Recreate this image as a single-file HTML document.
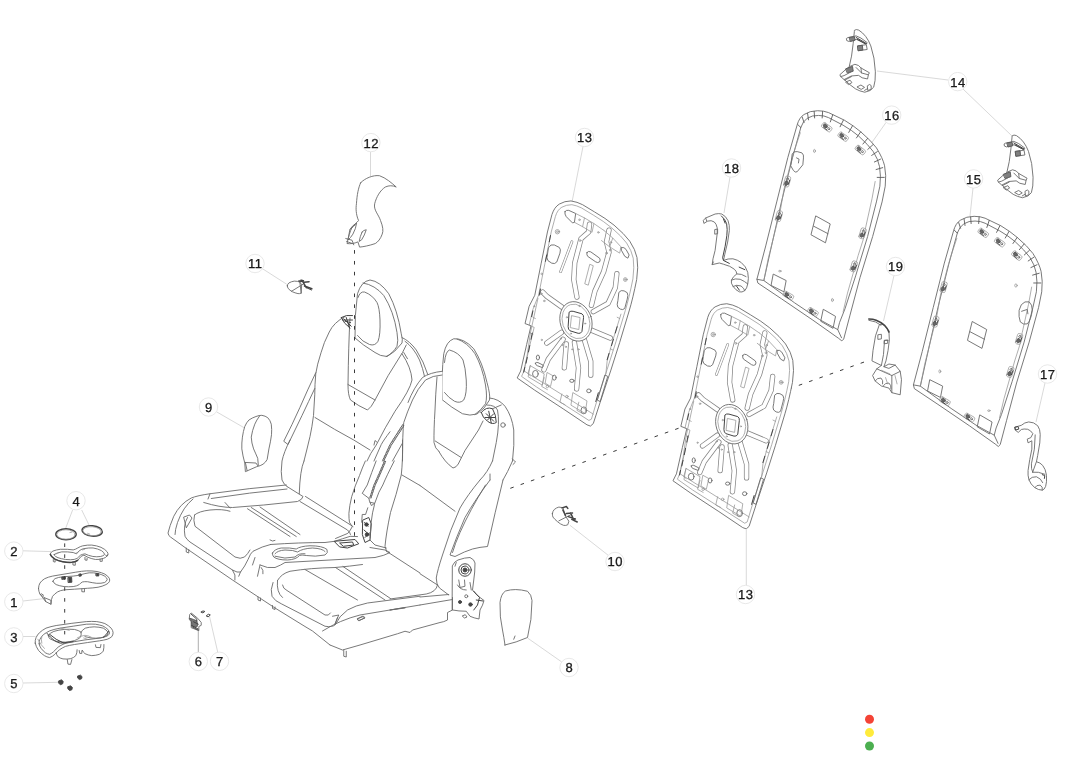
<!DOCTYPE html>
<html><head><meta charset="utf-8"><title>Seat assembly</title>
<style>
html,body{margin:0;padding:0;background:#fff;}
body{width:1080px;height:764px;overflow:hidden;font-family:"Liberation Sans",sans-serif;}
svg{display:block}
.p path,.p polyline,.p line,.p ellipse,.p circle,.p rect,.p polygon{fill:none;stroke:#6a6a6a;stroke-width:.9;vector-effect:non-scaling-stroke;stroke-linejoin:round;stroke-linecap:round}
.p .w{fill:#fff}
.p .d{stroke:#444;stroke-width:1}
.p .l{stroke:#949494;stroke-width:.75}
.p .k{fill:#444;stroke:#444}
.p .g{fill:#ddd}
.p .rib path{stroke:#858585;stroke-width:5.3}
.p .rib2 path{stroke:#8a8a8a;stroke-width:2.8}
.p .rib2w path{stroke:#fff;stroke-width:1.6}
.p .ribw path{stroke:#fff;stroke-width:3.8}
.p .kk{fill:#666;stroke:#555}
.p .h{stroke:#555;stroke-width:2.2;stroke-dasharray:.5 1.1;stroke-linecap:butt}
.ld line,.ld path{stroke:#cfcfcf;stroke-width:.8;fill:none}
.ds line{stroke:#3a3a3a;stroke-width:1;stroke-dasharray:3.6 7.34;fill:none}
.lb circle{fill:#fff;stroke:#e2e2e2;stroke-width:.8}
.lb text{font-family:"Liberation Sans",sans-serif;font-size:13px;fill:#1a1a1a;stroke:#1a1a1a;stroke-width:.3;text-anchor:middle;letter-spacing:.5px;text-rendering:geometricPrecision}
</style></head><body>
<svg width="1080" height="764" viewBox="0 0 1080 764">
<rect width="1080" height="764" fill="#fff"/>
<g class="ld">
<line x1="948" y1="80" x2="877" y2="71"/>
<line x1="963" y1="89" x2="1012" y2="136"/>
<line x1="1045" y1="383" x2="1036" y2="422"/>
<line x1="894" y1="275.5" x2="883.5" y2="321"/>
<line x1="730" y1="177" x2="724" y2="213"/>
<line x1="886" y1="122.5" x2="868" y2="148"/>
<line x1="973" y1="188" x2="970" y2="216"/>
<line x1="583" y1="146.5" x2="572" y2="202"/>
<line x1="370.5" y1="152" x2="370.5" y2="176"/>
<line x1="72.6" y1="510" x2="65.5" y2="528.7"/>
<line x1="81.7" y1="510" x2="89.5" y2="526"/>
<line x1="23" y1="550.8" x2="51" y2="551.6"/>
<line x1="23" y1="601" x2="45" y2="598.5"/>
<line x1="23" y1="636.5" x2="35.5" y2="636.5"/>
<line x1="23" y1="683" x2="58" y2="682.3"/>
<line x1="198.3" y1="630.6" x2="198.3" y2="652.5" style="stroke:#999"/>
<line x1="209.5" y1="616.5" x2="217.8" y2="652.5"/>
<line x1="216.5" y1="411.8" x2="244.4" y2="427.9"/>
<line x1="262.3" y1="268.6" x2="286.8" y2="284.3"/>
<line x1="570" y1="525.3" x2="608.5" y2="555.5"/>
<line x1="527.5" y1="638" x2="561.5" y2="661.8"/>
<line x1="746.3" y1="530" x2="746.3" y2="585"/>
</g>
<g class="ds">
<line x1="510.3" y1="488.3" x2="864.8" y2="361.8"/>
</g>
<g class="p" transform="translate(540 490) scale(0.11779)">
<path class="w" d="M105 200 Q108 178 122 165 Q140 150 160 145 L195 150 L215 220 L245 265 L236 295 Q218 304 200 300 Q172 290 150 270 Q125 250 110 230 Q104 215 105 200 Z"/>
<path d="M160 262 L262 210"/>
<path class="d" style="stroke-width:1.5" d="M188 152 L224 140 L236 156 M194 170 L216 216 M224 200 L276 195 M240 226 L300 246 M270 250 L316 272 M260 195 L290 260"/>
</g>
<g class="p" transform="translate(235 245) scale(0.09259)">
<path class="w" d="M565 440 Q568 420 582 410 Q610 394 640 390 Q675 390 700 400 L720 430 L715 520 Q696 528 680 525 Q648 518 620 505 Q592 490 575 470 Q565 455 565 440 Z"/>
<path d="M610 500 L740 420 M700 400 L715 520"/>
<path class="d" style="stroke-width:1.5" d="M690 388 L735 394 M745 402 L800 396 M750 442 L830 472 M722 380 L770 460"/>
<path class="d" d="M770 460 L826 486 M706 380 L742 384"/>
</g>
<g class="p" transform="translate(280 120) scale(0.20942)">
<path class="w" d="M385 300 C405 278 445 262 475 266 C505 276 535 302 555 320 C538 312 520 312 503 320 C478 336 460 368 452 400 C446 430 470 450 480 480 C492 510 494 530 488 545 C480 568 468 582 455 590 C425 600 400 605 380 607 L372 582 C355 590 335 592 320 590 C326 560 335 530 345 510 C355 498 368 490 375 480 C362 450 362 420 365 400 C368 355 374 325 385 300 Z"/>
<path d="M335 520 Q350 500 366 492 Q362 520 348 545 Q338 562 326 572 Z M338 522 Q350 506 360 500"/>
<path d="M392 535 Q400 525 412 524 Q404 550 390 572 L378 580 Q382 556 392 535 Z"/>
<path d="M314 566 L344 574 L352 596 M318 580 L346 590"/>
</g>
<g class="p" transform="translate(500.2 185.2) scale(0.31447)">
<use href="#p13"/>
</g>
<g class="p" transform="translate(656 288) scale(0.31447)">
<g id="p13">
<path class="w" d="M165 92 Q172 70 188 60 Q205 50 225 50 Q245 53 262 62 L300 85 Q335 105 362 127 Q395 155 412 178 Q430 205 435 230 Q440 260 434 300 Q422 360 410 400 L380 500 L352 588 L318 690 L296 758 L287 766 L276 762 L200 711 L110 652 L54 613 L65 591 L84 507 L98 447 L79 440 L92 385 L110 350 L130 250 L150 150 Z"/>
<path class="l" d="M176 98 Q182 78 196 70 Q210 62 228 62 Q244 65 258 72 L296 95 Q330 115 355 136 Q386 162 402 184 Q418 208 423 232 Q427 260 422 298 Q410 358 398 398 L368 498 L340 586 L308 684 L290 744 L282 748 L204 698 L116 642 L68 608 L76 590 L94 510 L108 452 L92 446 L104 395 L122 350 L142 250 L162 150 Z"/>
<!-- ribs: outlined strokes -->
<g class="rib">
<path d="M197 388 L149 354 L135 340"/>
<path d="M244 356 L234 300 L237 247 L257 170 L281 149 L284 124"/>
<path d="M290 382 L301 337 L329 275 L346 213 L338 180 L346 143"/>
<path d="M296 402 L343 376 L366 326 L371 281"/>
<path d="M283 458 L350 486"/>
<path d="M266 486 L288 560 L288 604"/>
<path d="M236 500 L249 581 L243 648 M210 505 L204 581"/>
<path d="M200 490 L153 553 L139 587"/>
<path d="M195 468 L148 502"/>
</g>
<g class="ribw">
<path d="M197 388 L149 354 L135 340"/>
<path d="M244 356 L234 300 L237 247 L257 170 L281 149 L284 124"/>
<path d="M290 382 L301 337 L329 275 L346 213 L338 180 L346 143"/>
<path d="M296 402 L343 376 L366 326 L371 281"/>
<path d="M283 458 L350 486"/>
<path d="M266 486 L288 560 L288 604"/>
<path d="M236 500 L249 581 L243 648 M210 505 L204 581"/>
<path d="M200 490 L153 553 L139 587"/>
<path d="M195 468 L148 502"/>
</g>
<g class="rib2">
<path d="M192 275 L228 180"/>
</g>
<g class="rib2w">
<path d="M192 275 L228 180"/>
</g>
<ellipse class="w" cx="241" cy="433" rx="50" ry="64" transform="rotate(-18 241 433)"/><ellipse class="l" cx="241" cy="433" rx="43" ry="56" transform="rotate(-18 241 433)"/>
<path class="d" d="M220 403 Q224 399 232 401 L260 409 Q266 413 265 421 L260 465 Q256 473 248 471 L222 463 Q216 459 216 451 Z"/>
<path class="l" d="M228 415 L254 421 L250 459 L224 453 Z"/>
<circle class="l" cx="212" cy="420" r="2"/><circle class="l" cx="270" cy="440" r="2"/><circle class="l" cx="225" cy="472" r="2"/><circle class="l" cx="252" cy="384" r="2"/>
<circle class="l" cx="193" cy="488" r="2"/><circle class="l" cx="198" cy="508" r="2"/><circle class="l" cx="209" cy="514" r="2"/><circle class="l" cx="229" cy="522" r="2"/><circle class="l" cx="249" cy="522" r="2"/>
<!-- slots -->
<path d="M276 214 Q280 208 288 212 L316 232 Q320 238 316 244 Q310 248 304 244 L278 226 Q274 220 276 214 Z"/>
<path class="l" d="M286 252 L296 256 L280 318 L270 314 Z"/>
<path d="M154 198 Q160 186 172 190 L188 198 Q194 204 190 216 L180 244 Q174 252 164 248 L152 240 Q146 232 150 220 Z"/>
<path d="M378 340 Q384 332 394 336 L404 342 Q408 350 404 362 L396 392 Q390 398 382 394 L374 388 Q370 380 374 368 Z"/>
<!-- top tabs -->
<path d="M206 84 Q210 78 218 80 L240 90 L236 118 L230 120 L210 100 Q204 92 206 84 Z"/>
<path class="l" d="M240 90 L268 104 L262 132 L236 118 M268 104 L298 122 L292 150 L262 132 M298 122 L330 144 M330 144 L358 168 L348 196 L322 176 M358 168 L384 196 L380 216 L348 196"/>
<circle class="l" cx="252" cy="110" r="2.5"/><circle class="l" cx="312" cy="150" r="2.5"/><circle class="l" cx="352" cy="182" r="2.5"/>
<path d="M386 198 Q394 196 400 204 L410 222 L406 232 L396 226 L386 208 Z"/>
<circle class="l" cx="182" cy="148" r="7"/><circle class="l" cx="182" cy="148" r="3"/>
<circle class="l" cx="398" cy="300" r="6"/><circle class="l" cx="398" cy="300" r="2.5"/>
<circle class="l" cx="254" cy="176" r="3"/><circle class="l" cx="338" cy="216" r="3"/><circle class="l" cx="350" cy="206" r="3"/>
<!-- left side details -->
<circle class="l" cx="132" cy="282" r="2.5"/><circle class="l" cx="130" cy="345" r="3"/><circle class="l" cx="140" cy="368" r="2.5"/><circle class="l" cx="108" cy="385" r="2"/><circle class="l" cx="132" cy="492" r="2"/>
<path class="l" d="M120 360 L96 470 L86 540 L74 596 M104 420 L112 424 M96 470 L104 474"/>
<path class="l" d="M384 410 L356 500 L340 560 L336 600 M372 420 L380 424 M350 520 L358 524"/>
<!-- lower holes -->
<ellipse cx="120" cy="548" rx="5" ry="8"/><ellipse cx="112" cy="600" rx="9" ry="11"/>
<path d="M112 566 Q114 562 120 564 L136 572 Q138 576 134 580 L118 574 Q112 572 112 566 Z"/>
<ellipse cx="172" cy="612" rx="6" ry="8"/><ellipse cx="228" cy="622" rx="7" ry="5"/><ellipse cx="282" cy="654" rx="7" ry="6"/>
<ellipse cx="266" cy="716" rx="9" ry="11"/><circle class="l" cx="212" cy="672" r="4"/><circle class="l" cx="150" cy="640" r="4"/>
<path class="l" d="M96 574 L88 600 L96 606 M140 612 L132 640 L150 650 M196 664 L190 690 L206 698 M250 690 L244 716 L262 726"/>
<path class="l" d="M78 592 L296 728"/>
<path d="M334 604 L342 608 L318 688 L310 684 Z"/>
<path class="d" d="M128 330 L124 350 M104 400 L100 418 M102 470 L98 490 M94 510 L90 530 M86 548 L82 566 M78 580 L75 594 M372 450 L366 470 M360 490 L354 510 M346 535 L340 555 M312 660 L304 688 M160 160 L156 180 M148 222 L144 242"/>
<path class="l" d="M96 574 L140 600 L134 636 L90 610 Z M232 660 L276 686 L270 726 L226 700 Z M150 596 L168 606 L160 640 L144 630 Z"/>
</g>
</g>
<g class="p" transform="translate(820 20) scale(0.12037)">
<g id="p14">
<path class="w" d="M288 84 Q300 74 322 84 Q388 125 422 215 Q455 310 460 430 Q462 510 446 558 Q425 592 372 600 Q330 592 295 572 Q240 535 200 492 L215 470 Q245 400 262 300 Q278 190 285 100 Z"/>
<path class="w" d="M222 152 L232 146 L300 132 L340 150 L392 188 L385 200 L300 160 L240 178 L225 172 Z"/>
<path class="k" style="fill:#808080;stroke:#555" d="M245 145 L285 138 L292 168 L255 178 Z"/>
<path class="d" d="M300 145 L385 195 M310 160 L380 200"/>
<path class="w" d="M315 215 L385 205 L392 245 L320 255 Z"/>
<path class="k" style="fill:#808080;stroke:#555" d="M315 215 L352 210 L356 250 L320 255 Z"/>
<path class="w" d="M168 452 L215 410 L250 385 L290 368 L320 378 L340 398 L410 438 L402 455 L395 490 L350 480 L320 460 L260 465 L200 495 L172 470 Z"/>
<path class="k" style="fill:#808080;stroke:#555" d="M215 405 L270 385 L276 425 L230 440 Z"/>
<path d="M172 470 L200 462 L260 430 M300 395 L345 440 L400 455 M340 398 L345 440"/>
<path d="M215 515 L250 500 L265 520 L240 535 Z M205 500 L262 470"/>
<path d="M310 555 L340 540 L370 560 L345 575 Z"/>
<path d="M395 545 Q415 525 425 545 L425 575 L400 585 Z M370 585 L395 570"/>
</g>
</g>
<g class="p" transform="translate(977.7 125.5) scale(0.12037)">
<use href="#p14"/>
</g>
<g class="p" transform="translate(906.5 200.6) scale(0.31447)">
<use href="#p16"/>
<path d="M366 330 Q376 318 390 322 Q400 330 400 348 Q396 380 384 392 Q372 396 362 386 Q356 370 358 350 Z M366 352 L384 346 L386 360"/>
<ellipse class="l" cx="348" cy="270" rx="4" ry="5"/><ellipse class="l" cx="106" cy="543" rx="3" ry="5"/><ellipse class="l" cx="262" cy="668" rx="4" ry="2.5"/>
</g>
<g class="p" transform="translate(750 95) scale(0.31447)">
<g id="p16">
<path class="w" d="M150 95 Q156 72 172 62 Q190 50 215 50 Q235 50 250 56 L300 80 Q330 98 352 117 Q385 145 402 168 Q422 200 428 225 Q434 255 430 290 L420 340 L390 450 L350 580 L318 700 L298 776 L292 782 L282 774 L200 716 L100 648 L25 598 L22 586 L50 480 L85 340 L120 200 Z"/>
<path d="M162 102 Q168 84 182 74 Q198 64 218 65 Q236 65 250 72 L296 96 Q324 112 346 131 Q376 158 392 180 Q408 205 412 228 Q417 258 413 290 L402 340 L374 450 L336 575 L302 680 L285 723 L279 746 L291 772"/>
<path d="M279 746 L221 714 L142 661 L44 590 L22 586 M44 590 L64 500 L100 340 L135 200 L162 102"/>
<path class="l" d="M160 120 Q150 150 140 180 L130 215 L118 262 L108 300 L96 370 L78 440 L58 520 L44 590"/>
<path class="l" d="M398 275 L388 330 L368 420 L360 460 L344 510 L330 560 L310 630 L296 690"/>
<!-- teeth -->
<path style="stroke:#5a5a5a" d="M161.0 103.0 L152.0 94.0 M172.0 88.0 L166.0 70.0 M186.0 79.0 L183.0 58.0 M205.5 73.0 L204.0 52.0 M229.5 73.0 L231.0 52.0 M255.5 85.5 L263.0 63.0 M286.5 101.0 L297.0 80.0 M314.0 119.0 L326.0 98.0 M338.5 136.5 L352.0 117.0 M359.0 156.0 L374.0 138.0 M374.5 173.0 L391.0 158.0 M387.0 192.0 L405.0 180.0 M395.5 213.0 L415.0 204.0 M401.0 237.0 L422.0 231.0 M404.5 262.0 L427.0 262.0"/>
<!-- clips -->
<g transform="translate(244 102.5) rotate(35)"><g id="clip16"><rect class="l" x="-17" y="-8.5" width="34" height="17" rx="5"/><ellipse class="kk" cx="-6" cy="-1" rx="7" ry="5"/><circle cx="8" cy="0" r="3.2"/><path class="d" d="M-8 6 L6 7"/></g></g>
<use href="#clip16" transform="translate(296.3 132.6) rotate(35)"/>
<use href="#clip16" transform="translate(350.8 175) rotate(38)"/>
<use href="#clip16" transform="translate(118 275) rotate(-75)"/>
<use href="#clip16" transform="translate(92 385) rotate(-75)"/>
<use href="#clip16" transform="translate(358 440) rotate(-73)"/>
<use href="#clip16" transform="translate(330 545) rotate(-73)"/>
<use href="#clip16" transform="translate(122 638) rotate(30)"/>
<use href="#clip16" transform="translate(200 690) rotate(30)"/>
<!-- centre square -->
<path d="M210 385 L255 410 L240 470 L195 445 Z M202 417 L248 441"/>
<!-- bottom rectangles -->
<path d="M75 570 L115 590 L108 626 L68 606 Z M234 682 L272 704 L264 742 L226 720 Z"/>
</g>
<path d="M135 186 Q140 178 150 180 L165 184 Q172 190 170 200 L168 222 L150 244 Q144 248 138 240 L130 226 Z M148 200 L156 204 L154 216"/>
<ellipse class="l" cx="205" cy="178" rx="3" ry="5"/><ellipse class="l" cx="262" cy="652" rx="3" ry="5"/><ellipse class="l" cx="95" cy="560" rx="4" ry="2.5"/>
</g>
<g class="p" transform="translate(990 355) scale(0.20921)">
<path class="w" d="M120 345 L150 336 Q165 322 185 320 Q210 320 228 338 Q240 355 240 380 L238 420 L228 480 L222 510 Q240 514 252 528 Q266 545 270 575 Q272 610 266 628 Q260 644 250 646 Q232 646 214 634 Q194 618 186 596 Q180 575 182 552 L190 500 L200 450 L200 410 L182 420 L178 402 L195 395 L205 376 Q195 360 180 355 Q162 352 150 356 L135 370 L122 360 Z"/>
<path class="d" d="M120 345 L134 342 L138 354 L124 358 Z M250 572 L262 576 L260 590"/>
<path d="M216 382 L212 450 L198 520 Q196 545 204 560 M222 510 L204 560"/>
<path d="M186 596 Q200 580 222 582 Q244 590 252 610 M214 634 Q222 620 240 622 Q254 630 250 646 M204 560 Q230 556 262 570"/>
</g>
<g class="p" transform="translate(690 150) scale(0.20921)">
<path class="w" d="M65 335 L75 325 L120 306 Q138 302 152 306 Q172 316 182 338 Q190 360 188 385 L180 440 L166 500 L160 528 Q182 518 205 520 Q228 525 245 538 Q268 556 276 585 Q282 615 276 640 Q272 662 262 672 Q248 682 236 678 Q218 670 206 652 Q194 636 198 622 Q206 604 224 592 Q222 578 212 570 L190 556 L160 546 L140 540 L106 548 L110 520 L120 480 L130 400 L130 372 Q126 352 116 344 Q102 334 84 340 L68 350 Z"/>
<path class="d" d="M150 315 Q168 330 175 352 Q180 380 176 410 L168 460 L156 515 L160 528 L188 542 M160 330 L168 350"/>
<path d="M120 380 L132 378 L132 400 L120 402 Z M106 548 L112 535 M75 325 L80 340"/>
<path d="M198 622 Q215 612 240 618 Q262 628 276 640 M206 652 Q222 642 244 650 Q258 660 262 672 M224 592 Q245 590 268 605"/>
<path class="d" d="M235 560 L262 572 M222 650 L236 670"/>
</g>
<g class="p" transform="translate(850 250) scale(0.20921)">
<path class="w" d="M140 358 L122 410 L110 480 L105 530 L150 552 L128 568 L108 600 L120 626 L150 650 L186 660 L200 682 L240 692 L246 620 L240 580 L216 550 L186 545 L162 558 L172 530 L182 480 L188 430 L186 386 L160 356 Z"/>
<path class="d" style="stroke-width:1.6" d="M90 330 Q110 330 125 336 Q150 346 165 360 Q182 378 186 392"/>
<path d="M90 336 L122 344 L148 360"/>
<path d="M150 552 L160 500 L165 432 L182 432 M135 405 L150 403 L150 425 L135 427 Z M165 432 L180 430 L180 446 L165 448 Z"/>
<path d="M128 568 L200 600 L240 580 M200 600 L200 682 M162 558 L186 566 L216 550"/>
<path d="M120 626 Q130 610 148 612 Q160 622 156 640 M160 648 Q168 634 186 636 Q198 646 196 664"/>
<path class="l" d="M150 575 L190 592 M170 610 L180 640 M215 600 L225 640"/>
</g>
<g class="p" transform="translate(170 590) scale(0.11779)">
<path class="w" d="M170 205 L180 195 L235 240 L265 275 L265 300 L245 310 L245 345 L180 320 L180 270 L165 250 Z"/>
<path class="k" style="fill:#777;stroke:#555" d="M168 240 L200 250 L228 262 L234 296 L230 312 L210 314 L186 304 L182 270 Z"/>
<path class="d" d="M180 205 L228 248 L228 262 M182 300 L240 332 M186 312 L238 340 M200 270 L240 290"/>
<path class="d" d="M265 186 L280 178 L296 182 L282 192 Z M310 218 L326 206 L342 212 L326 226 Z"/>
</g>
<g class="p" transform="translate(190 390) scale(0.11779)">
<path class="w" d="M470 690 L465 620 Q448 560 440 500 Q438 450 445 400 Q452 350 465 310 Q480 275 500 255 Q528 236 560 225 Q588 214 610 215 Q640 220 660 235 Q682 258 690 290 Q696 335 692 380 Q684 440 670 500 L655 590 Q642 615 620 630 Q598 644 570 650 Z"/>
<path d="M590 222 Q565 255 550 290 Q528 345 520 400 Q522 450 540 500 Q560 545 575 580 L580 640"/>
<path d="M470 615 L560 620 L575 642 M470 615 L485 685"/>
</g>
<g class="p" transform="translate(30 510) scale(0.13089)">
<ellipse class="d" style="stroke-width:1.4" cx="275" cy="185" rx="78" ry="42"/>
<ellipse class="l" cx="275" cy="187" rx="70" ry="36"/>
<ellipse class="d" style="stroke-width:1.4" cx="475" cy="160" rx="78" ry="40" transform="rotate(5 475 160)"/>
<ellipse class="l" cx="475" cy="162" rx="70" ry="34" transform="rotate(5 475 160)"/>
<path class="l" d="M305 172 L322 168 M440 178 L456 184"/>
<!-- part 2 -->
<path class="w" d="M155 335 Q160 320 175 314 Q200 304 232 300 Q290 298 330 305 Q350 300 365 290 Q385 278 402 274 Q440 266 472 268 Q510 272 542 285 Q575 300 590 320 Q600 335 594 346 Q580 365 560 370 Q530 380 500 378 Q465 372 440 360 L412 345 Q395 350 385 360 Q375 375 364 385 Q345 398 320 400 Q285 402 250 395 Q215 388 190 375 Q165 362 158 350 Z"/>
<path d="M185 340 Q205 326 242 320 Q290 318 330 325 L356 335 Q366 318 382 308 Q396 298 412 295 Q450 288 482 290 Q518 296 545 310 Q568 325 570 340 Q558 352 540 355 Q510 360 480 355 Q445 348 420 335 Q400 338 386 345 Q372 358 360 370 Q340 380 310 380 Q270 380 240 372 Q210 365 195 355 Q185 348 185 340 Z"/>
<path class="d" style="stroke-width:1.5" d="M156 340 Q162 358 190 375 Q215 388 250 395 Q285 402 320 400 Q345 398 364 385"/>
<path d="M178 378 L178 394 L192 398 L192 384 M328 402 L328 420 L346 422 L346 400 M420 362 L420 382 L436 384 L436 368 M535 374 L535 392 L552 392 L552 372 M578 346 L590 352 L594 342"/>
<path class="l" d="M200 335 L215 330 M400 305 L418 300 M350 330 L368 322"/>
<!-- part 1 -->
<path class="w" d="M65 600 Q66 575 76 558 Q90 538 112 525 Q138 512 172 505 L260 490 L350 475 Q395 467 432 465 Q475 464 512 470 Q548 478 572 490 Q598 506 606 522 Q612 536 606 548 Q598 562 580 570 Q552 584 520 590 Q480 596 440 598 L340 605 L262 610 Q232 614 212 625 Q188 640 172 660 Q162 680 160 720 L120 700 L76 642 Q66 622 65 600 Z"/>
<path d="M175 545 Q178 532 192 524 Q215 514 252 510 L330 505 Q360 502 386 495 Q420 484 452 480 Q488 478 520 485 Q552 494 572 506 Q588 518 590 530 Q586 546 570 554 Q545 562 510 560 Q475 556 440 548 Q415 546 400 550 Q386 558 376 570 Q356 582 330 585 Q295 588 260 585 Q225 580 200 570 Q180 558 175 545 Z"/>
<path d="M110 670 L160 690 L160 720 M76 642 L110 670 L120 700 M88 640 L104 652"/>
<path class="k" d="M245 512 L270 510 L270 528 L246 530 Z M292 516 L318 514 L320 552 L294 554 Z M376 490 L390 488 L392 504 L378 506 Z M505 486 L524 486 L526 504 L507 504 Z"/>
<path d="M396 604 L396 624 L416 626 L416 604"/>
</g>
<g class="p" transform="translate(30 600) scale(0.13089)">
<path class="w" d="M40 330 Q38 305 46 288 Q56 266 72 250 Q94 230 122 215 Q160 202 200 195 L320 178 L430 165 Q472 162 510 165 Q545 170 572 180 Q602 196 620 215 Q634 232 635 250 Q634 268 625 280 Q612 292 590 300 Q560 308 530 312 L440 325 L340 340 Q300 346 270 355 Q245 366 225 380 L190 415 Q172 432 150 440 Q128 436 110 425 Q84 408 65 385 Q46 358 40 330 Z"/>
<path d="M70 335 Q68 316 76 300 Q86 280 102 265 Q124 248 152 235 Q190 222 230 215 L330 200 L430 185 Q468 183 500 185 Q530 190 556 198 Q580 210 595 225 Q606 238 608 252 Q604 264 595 272 Q580 280 560 285 L500 295 L420 305 L330 320 Q292 326 260 335 Q235 346 215 360 L180 395 Q166 408 150 415 Q134 412 120 405 Q100 390 85 370 Q72 352 70 335 Z"/>
<path d="M140 270 Q155 250 182 240 Q220 228 262 225 Q304 222 340 225 Q372 232 390 245 Q394 268 385 285 Q366 302 340 310 Q305 320 270 322 Q232 322 200 315 Q168 306 150 295 Q140 284 140 270 Z"/>
<path d="M388 250 Q398 228 422 215 Q455 206 490 205 Q528 206 560 215 Q584 228 595 245 Q598 260 590 270 Q568 284 540 290 Q505 294 470 290 Q440 286 420 280"/>
<path class="d" d="M130 255 Q155 285 186 310 Q210 325 232 330 L330 318 M150 262 L200 300 L260 330 M560 285 Q580 270 600 240"/>
<path class="l" d="M60 300 Q80 340 110 370 M90 280 Q84 300 90 330 M235 215 L300 232 M410 290 L440 300"/>
<path d="M200 400 Q202 420 212 432 Q230 446 252 450 Q284 454 312 448 Q336 440 350 425 Q360 405 360 380 M400 385 Q406 400 420 410 Q444 422 472 425 Q504 424 530 415 Q550 405 560 390 Q566 365 565 340"/>
<path d="M285 455 L290 490 L310 492 L320 455 M376 386 L380 408 L396 408 L396 388 M500 342 L504 362 L538 364 L542 340"/>
<path class="l" d="M360 290 Q380 275 420 270 Q450 272 470 285"/>
<!-- screws -->
<path class="k" d="M220 618 L240 610 L254 622 L250 640 L232 648 L220 636 Z M366 580 L386 574 L398 586 L394 602 L378 608 L366 598 Z M290 662 L310 656 L324 668 L320 686 L302 692 L290 680 Z"/>
</g>
<g class="p" transform="translate(270 270) scale(0.25000)">
<!-- headrest 1 -->
<path class="w" d="M340 272 Q338 180 350 95 Q365 45 400 40 Q440 45 475 95 Q510 160 525 255 Q532 280 528 292 Q500 330 468 346 Q440 345 420 330 Q370 300 340 272 Z"/>
<path d="M372 52 Q420 60 455 102 Q495 165 508 250 Q514 285 508 305 Q490 335 465 346"/>
<path d="M352 110 Q360 85 378 88 Q410 100 428 130 Q438 150 440 200 Q442 260 432 285 Q420 305 398 298 Q370 288 350 262"/>
<!-- seat back 1 -->
<path d="M300 186 Q255 210 237 248 Q215 290 204 331 Q188 380 183 415 Q179 460 179 499 L174 582 Q168 630 160 666 L147 720 L136 764"/>
<path d="M183 411 Q150 480 120 549 Q88 620 55 685 L72 698 Q100 640 128 582 Q155 525 179 474"/>
<path d="M528 270 Q560 285 585 320 Q615 365 632 420"/>
<path d="M540 285 Q575 310 598 360 Q612 395 618 425"/>
<path d="M320 192 Q314 300 312 460 Q312 500 322 520 Q355 545 390 560 Q405 550 420 520 Q470 420 530 330 L545 300"/>
<path d="M528 335 Q565 390 568 440 Q560 480 500 565 Q460 630 425 700 Q400 735 388 764"/>
<path d="M427 688 L420 682 L416 700"/>
<path d="M180 590 Q260 640 335 680 L400 720"/>
<path d="M312 458 L420 520"/>
<path d="M535 330 L550 355"/>
<!-- belt guide 1 -->
<path class="d" d="M285 190 Q305 178 330 182 M285 190 Q295 215 320 232 M295 195 L325 225 M300 205 L322 210 M305 190 L318 232 M290 200 L330 200"/>
<!-- headrest 2 -->
<path class="w" d="M690 520 Q685 420 695 335 Q705 285 735 275 Q775 272 815 315 Q850 370 868 450 Q882 500 878 520 Q860 555 828 576 Q800 585 770 575 Q725 550 690 520 Z"/>
<path d="M748 276 Q790 290 820 335 Q850 390 862 460 Q870 510 862 535 Q845 560 820 578"/>
<path d="M698 370 Q702 325 718 320 Q755 330 772 360 Q782 390 785 440 Q788 495 775 520 Q760 535 738 525 Q715 512 698 490"/>
<!-- seat back 2 -->
<path class="w" d="M690 405 Q640 410 610 430 Q575 470 552 530 Q535 600 530 764 L700 764 L690 520 Z" style="stroke:none"/>
<path d="M690 405 Q640 410 610 430 Q575 470 552 530"/>
<path d="M688 420 Q650 422 622 440 Q590 475 570 520 Q548 570 535 610 Q530 650 530 764"/>
<path d="M668 428 Q662 500 660 560 Q655 640 656 690 Q660 715 675 725"/>
<path d="M878 512 Q915 515 940 545 Q968 585 975 640 Q978 700 970 764"/>
<path d="M868 540 Q900 540 910 560 Q920 610 905 690 L890 764"/>
<path d="M480 647 Q455 680 445 698 L416 764 M529 694 L490 764"/>
<path d="M531 618 L480 698 L450 764 M535 624 L485 701 L455 764"/><path class="h" d="M533 621 L482 700 L452 764"/>
<!-- belt guide 2 -->
<path class="d" d="M845 570 Q865 545 890 555 Q905 580 905 610 Q890 620 870 605 Q850 590 845 570 Z M865 575 L895 605 M875 565 L885 612 M860 590 L900 590 M870 600 L895 575"/>
<circle cx="932" cy="620" r="9"/>
<path d="M890 555 L925 540"/>
<path d="M675 725 Q700 770 732 792 Q745 790 753 776 L780 722 L834 640 L852 604"/>
<path d="M661 684 L763 749"/>
</g>
<g class="p" transform="translate(150 440) scale(0.25000)">
<!-- seat back 1 lower-left -->
<path d="M616 84 Q600 120 597 215 M560 0 Q535 50 528 84 Q522 130 528 160 Q535 178 548 186"/>
<!-- cushion outer -->
<path d="M545 180 Q400 192 240 215 Q190 222 165 232 Q120 255 95 305 Q78 345 72 372 Q74 384 82 388 L140 430 L330 560 L500 672 L620 746 L650 764 L720 820"/>
<path d="M548 196 Q400 210 245 234 M240 215 L232 236"/>
<path d="M172 236 Q132 268 110 330 Q100 360 100 378"/>
<path d="M215 250 Q280 270 330 270 Q450 262 590 246 Q610 238 612 226 L548 186"/>
<path d="M150 310 Q132 340 140 385 Q146 398 160 408 L330 520 Q350 532 362 528 Q380 505 392 478 Q402 452 412 445 Q450 425 482 418"/>
<path d="M178 300 Q172 320 180 345 L340 468 Q362 478 378 468 Q392 455 400 440"/>
<path d="M178 300 Q195 285 240 280 Q290 275 320 285 M300 250 L320 272"/>
<path d="M136 308 L158 300 L168 312 L146 350 Z"/>
<path d="M390 275 L560 386 M405 270 L585 386 M440 268 L600 378"/>
<path d="M600 246 L790 360 Q800 368 802 378 M622 226 L812 346"/>
<!-- console -->
<path d="M482 418 Q600 410 700 410 Q740 408 770 395 Q800 380 830 386"/>
<path d="M490 452 Q498 436 525 432 Q560 430 585 436 Q600 425 640 423 Q690 423 708 438 Q714 452 700 460 Q660 468 625 462 Q605 458 598 462 Q585 478 550 480 Q510 480 495 468 Q488 460 490 452 Z"/>
<path d="M500 455 Q510 442 540 440 Q575 440 590 448 Q610 434 650 432 Q690 434 700 446"/>
<path d="M500 465 Q540 478 580 468 Q595 452 620 455"/>
<path d="M440 500 Q470 515 500 510 Q525 500 540 490 Q720 480 900 470 Q940 462 960 450 L940 440 L880 430"/>
<path d="M440 500 L430 545 M445 510 Q455 520 452 535 M420 470 L410 500 M480 400 Q490 408 500 402"/>
<path d="M330 520 Q345 540 340 560 M362 528 L355 545"/>
<!-- right cushion -->
<path d="M510 562 Q525 535 560 525 Q640 512 740 510 Q800 505 850 498"/>
<path d="M530 580 Q532 595 548 602 L700 700 Q715 705 722 692"/>
<path d="M492 570 Q480 600 488 625 Q500 645 525 655 L700 745 Q730 750 742 738 Q755 705 790 680 Q820 662 870 652 L1080 625"/>
<path d="M510 562 Q505 610 530 630 M740 738 L750 710"/>
<path d="M742 510 L940 640 M772 506 L962 634 M620 518 L830 640"/>
<path d="M690 764 Q760 720 840 700 L1080 660"/>
<path d="M830 715 L850 705 L858 712 L838 722 Z M960 680 L1020 670"/>
<!-- feet -->
<path d="M145 432 L145 448 L155 452 L155 438 M432 628 L432 640 L442 644 L442 632 M490 662 L490 674 L500 678 L500 668"/>
<!-- seat back1 right / recliner -->
<path class="d" d="M852 320 L875 310 L885 335 L880 400 L860 410 L850 380 Z M858 330 L872 345 M856 360 L878 380 M860 390 L880 370"/>
<circle class="k" cx="866" cy="338" r="7"/><circle class="k" cx="868" cy="378" r="7"/>
<path class="d" d="M738 405 L820 398 L835 415 L790 432 L760 428 Z M760 412 L810 408 L815 420 L775 425 Z"/>
<path d="M880 400 L900 420 L945 432"/>
<!-- seat back 2 left edge -->
<path d="M1010 0 Q1012 80 1005 140 Q985 220 962 290 Q945 370 940 425 L946 445"/>
<path d="M1008 140 L1080 182"/>
<path d="M946 445 L1080 532"/>
</g>
<g class="p" transform="translate(330 480) scale(0.25000)">
<!-- seat back 2 seam and right side -->
<path d="M360 22 L500 125"/>
<path d="M600 0 Q550 60 520 112 Q480 200 450 300 Q430 360 425 392 Q425 420 438 432 L475 460"/>
<path d="M360 375 L430 420"/>
<path d="M640 0 Q580 80 540 150 Q505 230 480 300 L500 306 Q540 285 570 276 Q600 268 630 266 Q660 130 692 0"/>
<path d="M622 20 Q560 120 520 210 Q500 255 490 290"/>
<!-- recliner bracket -->
<path class="w" d="M490 342 Q498 325 512 320 Q540 310 560 310 Q578 318 580 332 Q580 370 575 400 L570 440 Q585 460 600 470 L616 482 Q612 500 600 520 L596 556 Q575 552 560 545 L545 525 Q515 525 490 520 Z"/>
<circle class="d" cx="540" cy="360" r="25"/><circle class="d" cx="540" cy="360" r="16"/><circle class="k" cx="540" cy="360" r="8"/>
<path d="M505 330 L500 345 M510 420 Q520 440 545 440 M560 410 L565 440 M515 400 L520 430 L540 425 L538 400"/>
<circle class="k" cx="520" cy="488" r="6"/><circle class="k" cx="562" cy="498" r="7"/><circle cx="545" cy="465" r="6"/>
<path class="d" d="M575 445 L598 470 L590 500 L575 520 M585 480 L612 484"/>
<path d="M530 545 L538 552 L548 548 L542 540 Z"/>
<!-- cushion right/front -->
<path d="M360 468 L475 458 M360 500 L490 478 M490 470 L490 520 L470 530 L470 560 Q455 568 440 570 L330 600 L320 610 L300 605 L270 615 L120 660 L50 680 L0 660"/>
<path d="M55 680 L55 705 L65 708 L65 685"/>
<path d="M110 555 L135 545 L140 552 L115 562 Z M240 520 L300 512 M10 545 L35 540 L20 575"/>
<!-- part 8 -->
<path class="w" d="M700 660 Q696 630 690 600 Q678 550 680 490 Q684 455 702 444 Q740 432 790 445 Q806 458 808 482 Q808 560 790 630 Q745 650 700 660 Z"/>
<path d="M735 637 L740 624"/>
<path d="M730 -76 Q710 -30 692 0 M650 -76 Q630 -30 600 0 M640 -24 L640 0 M730 -84 L742 -72 L732 -62"/>
<path d="M430 420 Q425 448 385 456 L240 476"/>
</g>
<g class="p" transform="translate(340 400) scale(0.11123)">
<path d="M228 548 Q200 610 175 680 Q135 770 105 869 Q85 950 80 1019 Q80 1070 85 1099 L110 1139 Q95 1170 70 1199 L-40 1245"/>
<path d="M325 548 Q285 650 245 764 L200 839 L260 884"/>
<path d="M400 548 Q345 680 305 764 L268 879 M410 552 Q355 684 315 768 L278 883"/><path class="h" d="M405 550 Q350 682 310 766 L273 881"/>
<path d="M488 548 Q420 680 385 764 L350 829 L312 929 L282 949 L265 909 L260 884"/>
<path d="M270 919 L312 929 M250 969 L230 1029 L200 1029 L195 1099"/>
<path d="M310 940 Q290 1010 280 1100 L270 1240"/>
</g>
<g class="ds">
<line x1="354.5" y1="250.1" x2="354.5" y2="538" style="stroke-dasharray:3.6 7.25"/>
<line x1="64.7" y1="543.4" x2="64.7" y2="634.4"/>
</g>
<g class="lb" style="filter:grayscale(1)">
<circle cx="957.7" cy="81.6" r="9.2"/><text x="957.95" y="86.5">14</text>
<circle cx="891.7" cy="115.1" r="9.2"/><text x="891.95" y="120">16</text>
<circle cx="973.6" cy="178.9" r="9.2"/><text x="973.85" y="183.8">15</text>
<circle cx="584.5" cy="137.5" r="9.2"/><text x="584.75" y="142.4">13</text>
<circle cx="731.5" cy="168" r="9.2"/><text x="731.75" y="172.9">18</text>
<circle cx="895.5" cy="266.5" r="9.2"/><text x="895.75" y="271.4">19</text>
<circle cx="1047.5" cy="374" r="9.2"/><text x="1047.75" y="378.9">17</text>
<circle cx="370.9" cy="142.6" r="9.2"/><text x="371.15" y="147.5">12</text>
<circle cx="255" cy="263.5" r="9.2"/><text x="255.25" y="268.4">11</text>
<circle cx="208.5" cy="407" r="9.2"/><text x="208.75" y="411.9">9</text>
<circle cx="76" cy="500.7" r="9.2"/><text x="76.25" y="505.6">4</text>
<circle cx="13.8" cy="551.1" r="9.2"/><text x="14.05" y="556">2</text>
<circle cx="13.8" cy="601.8" r="9.2"/><text x="14.05" y="606.7">1</text>
<circle cx="13.8" cy="636.9" r="9.2"/><text x="14.05" y="641.8">3</text>
<circle cx="13.8" cy="683.5" r="9.2"/><text x="14.05" y="688.4">5</text>
<circle cx="198.3" cy="661.5" r="9.2"/><text x="198.55" y="666.4">6</text>
<circle cx="219.5" cy="661.3" r="9.2"/><text x="219.75" y="666.2">7</text>
<circle cx="615" cy="561.5" r="9.2"/><text x="615.25" y="566.4">10</text>
<circle cx="745.5" cy="594.5" r="9.2"/><text x="745.75" y="599.4">13</text>
<circle cx="569" cy="667.5" r="9.2"/><text x="569.25" y="672.4">8</text>
</g>
<circle cx="869.5" cy="719.2" r="4.5" fill="#f44336"/><circle cx="869.5" cy="732.6" r="4.5" fill="#ffeb3b"/><circle cx="869.5" cy="746" r="4.5" fill="#4caf50"/>
</svg></body></html>
